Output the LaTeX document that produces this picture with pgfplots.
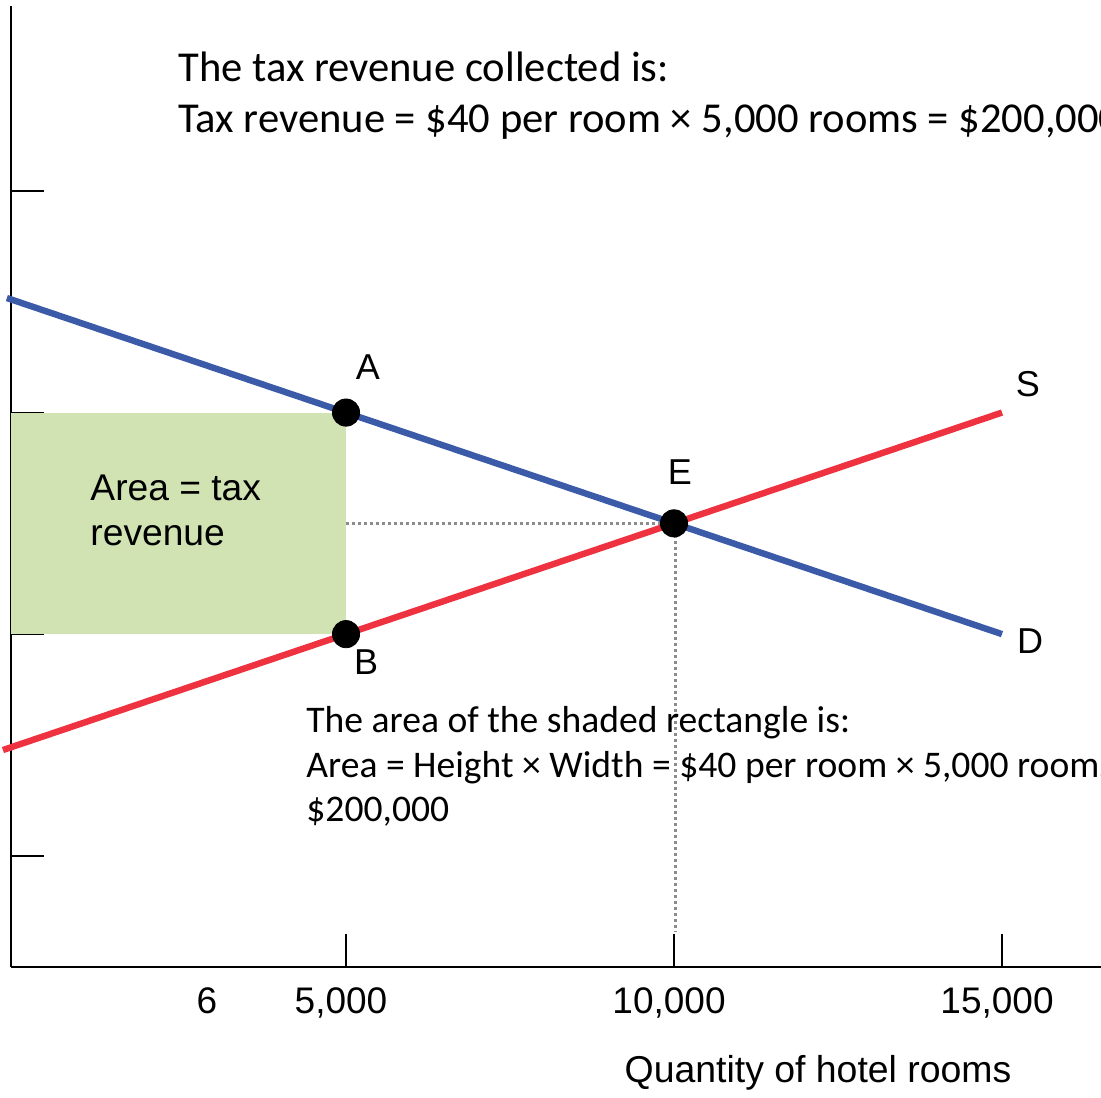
\documentclass[border=0pt]{standalone}
\usepackage{fontspec}
\setmainfont{Liberation Sans}
\newfontfamily\calibri{Carlito}
\usepackage{pgfplots}
\pgfplotsset{compat=1.18}
\definecolor{demandblue}{RGB}{59,91,169}
\definecolor{supplyred}{RGB}{238,50,64}
\definecolor{taxgreen}{RGB}{209,227,178}
\definecolor{guide}{RGB}{140,140,140}

\begin{document}
\begin{tikzpicture}
\begin{axis}[
  scale only axis, width=545pt, height=480.25pt,
  xmin=-107, xmax=16509, ymin=0, ymax=173.4,
  axis lines=left,
  axis line style={-, line width=1pt, black},
  clip=false,
  tick align=inside,
  major tick length=16.5pt,
  every tick/.style={black, line width=1pt},
  scaled x ticks=false,
  xtick={5000,10000,15000},
  xticklabels={{5,000},{10,000},{15,000}},
  extra x ticks={2957}, extra x tick labels={6},
  extra x tick style={major tick length=0pt},
  ytick={20,60,80,100,140}, yticklabels={},
  tick label style={font=\fontsize{18.5}{21}\selectfont},
  xticklabel style={yshift=-7pt, xshift=-2.5pt},
]
% shaded tax revenue
\addplot[fill=taxgreen, draw=none] coordinates {(-107,60) (5000,60) (5000,100) (-107,100)} -- cycle;
% guide lines from E
\addplot[guide, line width=1.5pt, dash pattern=on 1.5pt off 1.5pt] coordinates {(5000,80) (10000,80)};
\addplot[guide, line width=1.5pt, dash pattern=on 1.5pt off 1.5pt] coordinates {(10030,80) (10030,6.2)};
% demand and supply
\addplot[demandblue, line width=3.2pt] coordinates {(-170,120.68) (15000,60)};
\addplot[supplyred, line width=3.2pt] coordinates {(-230,39.08) (15000,100)};
% points A, B, E
\addplot[only marks, mark=*, mark size=6.8pt, black] coordinates {(5000,100) (5000,60) (10000,80)};

\node[font=\fontsize{18}{21}\selectfont] at (axis cs:5335,108.2) {A};
\node[font=\fontsize{18}{21}\selectfont] at (axis cs:5305,55.0) {B};
\node[font=\fontsize{18}{21}\selectfont] at (axis cs:10091,89.3) {E};
\node[font=\fontsize{18}{21}\selectfont] at (axis cs:15396,105.1) {S};
\node[font=\fontsize{18}{21}\selectfont] at (axis cs:15427,58.8) {D};
\node[anchor=west, align=left, inner sep=0pt, font=\fontsize{18.6}{22.5}\selectfont]
  at (axis cs:1098,82.4) {Area = tax\\revenue};

\node[anchor=base west, inner sep=0pt, font=\calibri\fontsize{21.3}{24}\selectfont]
  at (axis cs:2439,159.7) {The tax revenue collected is:};
\node[anchor=base west, inner sep=0pt, font=\calibri\fontsize{21.3}{24}\selectfont]
  at (axis cs:2439,150.6) {Tax revenue = \$40 per room × 5,000 rooms = \$200,000};

\node[anchor=base west, inner sep=0pt, font=\calibri\fontsize{18.8}{22}\selectfont]
  at (axis cs:4390,42.3) {The area of the shaded rectangle is:};
\node[anchor=base west, inner sep=0pt, font=\calibri\fontsize{18.8}{22}\selectfont]
  at (axis cs:4390,34.2) {Area = Height × Width = \$40 per room × 5,000 rooms =};
\node[anchor=base west, inner sep=0pt, font=\calibri\fontsize{18.8}{22}\selectfont]
  at (axis cs:4390,26.1) {\$200,000};

\node[font=\fontsize{18.7}{21}\selectfont] at (axis cs:12195,0) [yshift=-53.25pt] {Quantity of hotel rooms};
\end{axis}
\pgfresetboundingbox
\useasboundingbox (-5.5pt,-65.25pt) rectangle (545pt,483.25pt);
\end{tikzpicture}
\end{document}
